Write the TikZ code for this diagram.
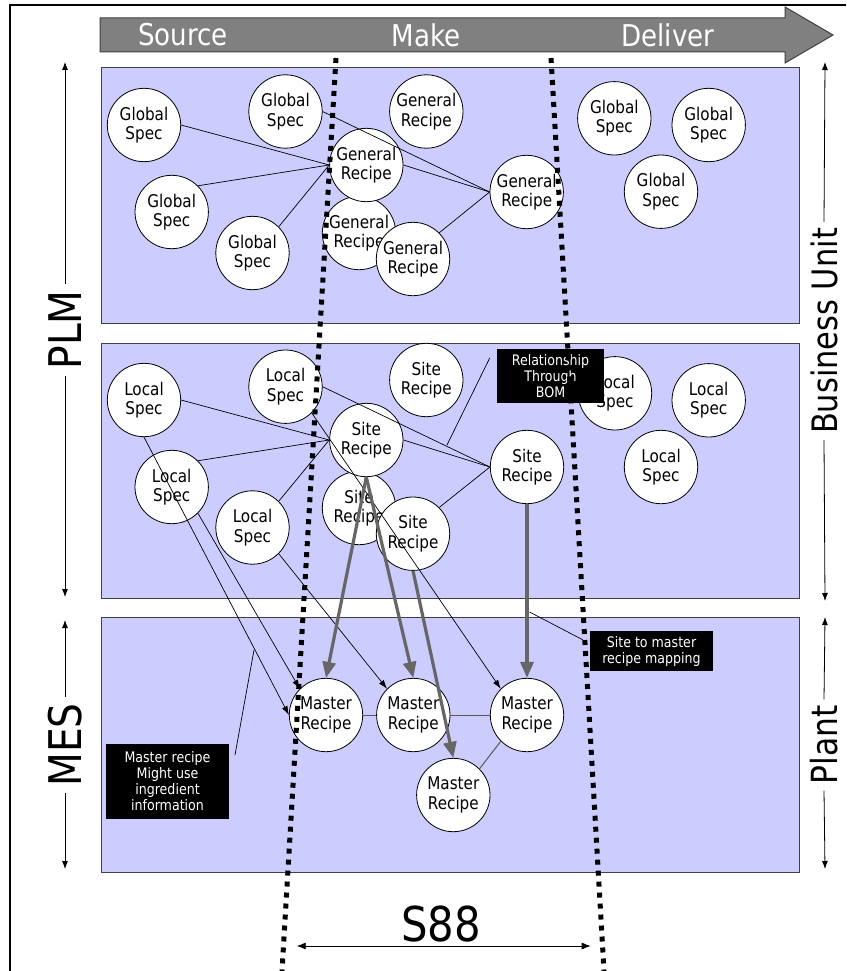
\documentclass[tikz,border=0pt]{standalone}
\usepackage{fontspec}
\setmainfont{DejaVu Sans}
\newfontfamily\cnd[FakeStretch=0.87]{DejaVu Sans}
\usetikzlibrary{arrows.meta}
\definecolor{lav}{HTML}{CCCCFF}
\definecolor{laneedge}{HTML}{404040}
\definecolor{bandgray}{HTML}{808080}
\definecolor{bandedge}{HTML}{404040}
\definecolor{flowgray}{HTML}{666666}
\definecolor{mrline}{HTML}{595959}
\begin{document}
\begin{tikzpicture}[x=1pt,y=-1pt,
  circ/.style={circle, draw=black, fill=white, line width=0.8pt, minimum size=73.4pt,
    inner sep=0pt, align=center, font=\cnd\fontsize{17.5}{19.5}\selectfont},
  lane/.style={draw=laneedge, fill=lav, line width=1pt},
  note/.style={fill=black, text=white, align=center, inner sep=0pt,
    font=\cnd\fontsize{14.5}{16}\selectfont},
  link/.style={draw=black, line width=0.7pt},
  feed/.style={link, -{Latex[length=9pt,width=6pt]}},
  flow/.style={draw=flowgray, line width=3.2pt, -{Triangle[length=16pt,width=13pt]}},
  mrlink/.style={draw=mrline, line width=1pt},
  s88line/.style={line width=5pt, dash pattern=on 5pt off 6pt},
  side/.style={line width=0.8pt, -{Latex[length=8pt,width=6pt]}},
  sidetxt/.style={inner sep=6pt, rotate=90},
  toptxt/.style={text=white, inner sep=0pt, font=\cnd\fontsize{30}{30}\selectfont},
]
\useasboundingbox (0,0) rectangle (846,971);
\fill[white] (0,0) rectangle (846,971);

% outer frame
\draw[line width=2pt] (10,971) -- (10,5) -- (846,5);

% process band
\draw[fill=bandgray, draw=bandedge, line width=1pt]
  (100,18) -- (785,18) -- (785,7) -- (833,35) -- (785,63) -- (785,52) -- (100,52) -- cycle;
\node[toptxt] (src) at (183,35) {Source};
\node[toptxt] (mk) at (426,35) {Make};
\node[toptxt] (dlv) at (668,35) {Deliver};

% lanes
\draw[lane] (101,68) rectangle (799,323);
\draw[lane] (101,343) rectangle (799,598);
\draw[lane] (101,617) rectangle (799,872);

% ---- general recipe level ----
\node[circ] (gs1) at (144,125) {Global\\Spec};
\node[circ] (gs2) at (285.5,111.5) {Global\\Spec};
\node[circ] (gr1) at (426.3,111.5) {General\\Recipe};
\node[circ] (gs3) at (171.7,212) {Global\\Spec};
\node[circ] (gs4) at (252.5,253) {Global\\Spec};
\node[circ] (gr2) at (359,233) {General\\Recipe};
\node[circ] (grc) at (366.3,165) {General\\Recipe};
\node[circ] (gr3) at (413,259) {General\\Recipe};
\node[circ] (grr) at (526.7,192) {General\\Recipe};
\node[circ] (gs5) at (614.3,118.3) {Global\\Spec};
\node[circ] (gs6) at (708.7,125) {Global\\Spec};
\node[circ] (gs7) at (661,191.7) {Global\\Spec};

\draw[link] (gs1.east) -- (grc.west);
\draw[link] (gs3.north east) -- (grc.west);
\draw[link] (gs4.north east) -- (grc.west);
\draw[link] (gs2.east) -- (grr.west);
\draw[link] (grc.east) -- (grr.west);
\draw[link] (gr3.north east) -- (grr.west);

% ---- site recipe level ----
\node[circ] (ls1) at (144,400) {Local\\Spec};
\node[circ] (ls2) at (285.5,386.7) {Local\\Spec};
\node[circ] (sr1) at (426.3,380) {Site\\Recipe};
\node[circ] (ls3) at (171.7,487) {Local\\Spec};
\node[circ] (ls4) at (252.5,527.5) {Local\\Spec};
\node[circ] (sr2) at (359,508) {Site\\Recipe};
\node[circ] (src2) at (366.3,440) {Site\\Recipe};
\node[circ] (sr3) at (413,533.7) {Site\\Recipe};
\node[circ] (srr) at (527,467) {Site\\Recipe};
\node[circ] (ls5) at (615,393.3) {Local\\Spec};
\node[circ] (ls6) at (708.7,400.3) {Local\\Spec};
\node[circ] (ls7) at (661,467) {Local\\Spec};

\draw[link] (ls1.east) -- (src2.west);
\draw[link] (ls3.north east) -- (src2.west);
\draw[link] (ls4.north east) -- (src2.west);
\draw[link] (ls2.east) -- (srr.west);
\draw[link] (src2.east) -- (srr.west);
\draw[link] (sr3.north east) -- (srr.west);

% ---- master recipe level ----
\node[circ] (mr1) at (326,715) {Master\\Recipe};
\node[circ] (mr2) at (413.3,715) {Master\\Recipe};
\node[circ] (mr3) at (527,715) {Master\\Recipe};
\node[circ] (mr4) at (453.3,795) {Master\\Recipe};

\draw[mrlink] (mr1.east) -- (mr2.west);
\draw[mrlink] (mr2.east) -- (mr3.west);
\draw[mrlink] (mr3.south west) -- (mr4.north east);

% ingredient feeds
\draw[feed] (ls1.south) -- (mr1.west);
\draw[feed] (ls3.south east) -- (mr1.north west);
\draw[feed] (ls4.south east) -- (mr2.north west);
\draw[feed] (ls2.south east) -- (mr3.north west);

% site to master mapping
\draw[flow] (src2.south) -- (mr1.north);
\draw[flow] (src2.south) -- (mr2.north);
\draw[flow] (sr3.south) -- (mr4.north);
\draw[flow] (srr.south) -- (mr3.north);

% call-outs
\node[note, minimum width=107pt, minimum height=54pt] (bom) at (550.5,376) {Relationship\\Through\\BOM};
\coordinate (bomtip) at (447,445);
\draw[link] ([xshift=-7pt,yshift=-9pt]bom.north west) -- (bomtip);

\node[note, minimum width=123pt, minimum height=40pt] (map) at (651.5,651) {Site to master\\recipe mapping};
\coordinate (maptip) at (529.5,612);
\draw[link] ([xshift=-7pt,yshift=-9pt]map.north west) -- (maptip);

\node[note, minimum width=123pt, minimum height=75pt] (ing) at (167.5,781.5) {Master recipe\\Might use\\ingredient\\information};
\coordinate (ingtip) at (254,650);
\coordinate (ingfoot) at (235,755);
\draw[link] (ingfoot) -- (ingtip);

% S88 boundaries
\coordinate (d1a) at (336,58);
\coordinate (d1b) at (282,971);
\coordinate (d2a) at (551,58);
\coordinate (d2b) at (604,971);
\draw[s88line] (d1a) -- (d1b);
\draw[s88line] (d2a) -- (d2b);

\node[inner sep=0pt, font=\cnd\fontsize{48}{48}\selectfont] (s88) at (441,924) {S88};
\coordinate (s88l) at (296.7,946);
\coordinate (s88r) at (590.7,946);
\draw[line width=0.8pt, {Latex[length=9pt,width=7pt]}-{Latex[length=9pt,width=7pt]}] (s88l) -- (s88r);

% side scales
\node[sidetxt, font=\cnd\fontsize{45}{45}\selectfont] (plm) at (65,330) {PLM};
\coordinate (plmtop) at (65,62);
\coordinate (plmbot) at (65,597);
\draw[side] (plm.east) -- (plmtop);
\draw[side] (plm.west) -- (plmbot);

\node[sidetxt, font=\cnd\fontsize{45}{45}\selectfont] (mes) at (65,745) {MES};
\coordinate (mestop) at (65,620);
\coordinate (mesbot) at (65,869);
\draw[side] (mes.east) -- (mestop);
\draw[side] (mes.west) -- (mesbot);

\node[sidetxt, font=\cnd\fontsize{35}{35}\selectfont] (bu) at (824,331) {Business Unit};
\coordinate (butop) at (825,62);
\coordinate (bubot) at (825,601);
\draw[side] (bu.east) -- (butop);
\draw[side] (bu.west) -- (bubot);

\node[sidetxt, font=\cnd\fontsize{36}{36}\selectfont] (pl) at (824,745) {Plant};
\coordinate (pltop) at (825,617);
\coordinate (plbot) at (825,869);
\draw[side] (pl.east) -- (pltop);
\draw[side] (pl.west) -- (plbot);
\end{tikzpicture}
\end{document}
